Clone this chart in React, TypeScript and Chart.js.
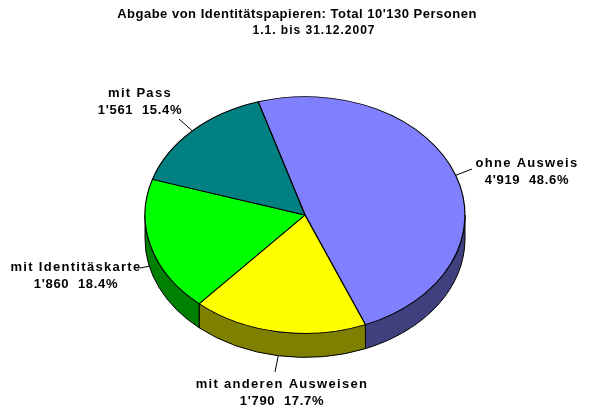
import React, { useEffect, useRef } from 'react';
import { Chart, registerables } from 'chart.js';

Chart.register(...registerables);

const categories = ['ohne Ausweis', 'mit anderen Ausweisen', 'mit Identitäskarte', 'mit Pass'];
const counts = [4919, 1790, 1860, 1561];
const countLabels = ["4'919", "1'790", "1'860", "1'561"];
const percentLabels = ['48.6%', '17.7%', '18.4%', '15.4%'];
const topColors = ['#8080FF', '#FFFF00', '#00FF00', '#008080'];
const sideColors = ['#40407F', '#808000', '#008000', '#004040'];
const titleText = "Abgabe von Identitätspapieren: Total 10'130 Personen";
const subtitleText = '1.1. bis 31.12.2007';

// layout (not data)
const TILT = 0.74;
const DEPTH = 24;
const labelLayout = [
  { x: 527, y: 163, ex: 472, ey: 169, depthFrac: 0 },
  { x: 282, y: 384, ex: 275, ey: 372, depthFrac: 1 },
  { x: 76, y: 267, ex: 140, ey: 268, depthFrac: 0.8 },
  { x: 140, y: 93, ex: 179, ey: 119, depthFrac: 0 },
];

const FONT = '"Liberation Sans", Arial, sans-serif';

const pie3d = {
  id: 'pie3d',
  beforeDatasetsDraw(chart: any) {
    const ctx = chart.ctx as CanvasRenderingContext2D;
    const arcs = chart.getDatasetMeta(0).data;
    const p0 = arcs[0].getProps(['x', 'y', 'outerRadius'], true);
    const cx = p0.x, cy = p0.y, r = p0.outerRadius, ry = r * TILT;
    ctx.save();
    ctx.lineWidth = 1;
    ctx.strokeStyle = '#000';
    ctx.lineJoin = 'round';
    arcs.forEach((arc: any, i: number) => {
      const { startAngle, endAngle } = arc.getProps(['startAngle', 'endAngle'], true);
      for (let k = -2; k <= 2; k++) {
        const lo = Math.max(startAngle, 2 * Math.PI * k);
        const hi = Math.min(endAngle, 2 * Math.PI * k + Math.PI);
        if (hi - lo > 1e-6) {
          ctx.beginPath();
          ctx.ellipse(cx, cy, r, ry, 0, lo, hi, false);
          ctx.ellipse(cx, cy + DEPTH, r, ry, 0, hi, lo, true);
          ctx.closePath();
          ctx.fillStyle = sideColors[i];
          ctx.fill();
          ctx.stroke();
        }
      }
    });
    ctx.restore();
    ctx.save();
    ctx.translate(cx, cy);
    ctx.scale(1, TILT);
    ctx.translate(-cx, -cy);
  },
  afterDatasetsDraw(chart: any) {
    const ctx = chart.ctx as CanvasRenderingContext2D;
    ctx.restore();
    const arcs = chart.getDatasetMeta(0).data;
    ctx.save();
    ctx.strokeStyle = '#000';
    ctx.lineWidth = 1;
    arcs.forEach((arc: any, i: number) => {
      const { x, y, startAngle, endAngle, outerRadius } = arc.getProps(
        ['x', 'y', 'startAngle', 'endAngle', 'outerRadius'], true);
      const mid = (startAngle + endAngle) / 2;
      const sx = x + outerRadius * Math.cos(mid);
      const sy = y + outerRadius * TILT * Math.sin(mid) + DEPTH * labelLayout[i].depthFrac;
      ctx.beginPath();
      ctx.moveTo(sx, sy);
      ctx.lineTo(labelLayout[i].ex, labelLayout[i].ey);
      ctx.stroke();
    });
    ctx.fillStyle = '#000';
    ctx.textAlign = 'center';
    ctx.textBaseline = 'middle';
    ctx.font = `bold 13px ${FONT}`;
    categories.forEach((c, i) => {
      const L = labelLayout[i];
      (ctx as any).letterSpacing = '1.3px';
      ctx.fillText(c, L.x, L.y);
      (ctx as any).letterSpacing = '0.7px';
      ctx.fillText(`${countLabels[i]}  ${percentLabels[i]}`, L.x, L.y + 17);
    });
    (ctx as any).letterSpacing = '0.5px';
    ctx.font = `bold 13px ${FONT}`;
    ctx.fillText(titleText, 297, 14);
    (ctx as any).letterSpacing = '1px';
    ctx.font = `bold 12px ${FONT}`;
    ctx.fillText(subtitleText, 314, 31);
    ctx.restore();
  },
};

export default function App() {
  const ref = useRef<HTMLCanvasElement>(null);
  useEffect(() => {
    document.body.style.margin = '0';
    const chart = new Chart(ref.current!, {
      type: 'pie',
      data: {
        labels: categories,
        datasets: [
          {
            data: counts,
            backgroundColor: topColors,
            borderColor: '#000',
            borderWidth: 1.2,
          },
        ],
      },
      options: {
        responsive: false,
        animation: false,
        rotation: -17,
        radius: 160,
        layout: { padding: { left: 145, right: 126, top: 55, bottom: 35 } },
        plugins: {
          legend: { display: false },
          tooltip: { enabled: false },
          title: { display: false },
        },
      },
      plugins: [pie3d],
    });
    return () => chart.destroy();
  }, []);
  return (
    <div style={{ position: 'fixed', left: 0, top: 0, width: 591, height: 410, background: '#fff' }}>
      <canvas ref={ref} width={591} height={410} style={{ width: 591, height: 410 }} />
    </div>
  );
}
